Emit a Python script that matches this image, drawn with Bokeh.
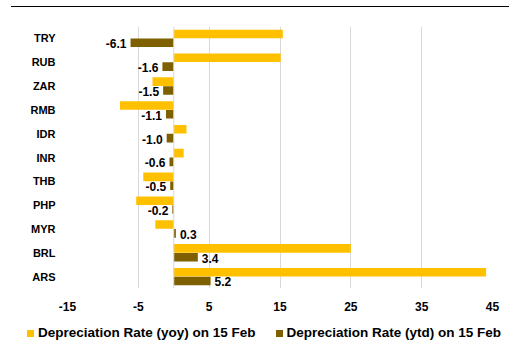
from bokeh.plotting import figure
from bokeh.models import ColumnDataSource, FactorRange, Span, Div, FixedTicker, PrintfTickFormatter
from bokeh.transform import dodge
from bokeh.layouts import column
from bokeh.embed import file_html
from bokeh.resources import INLINE
from bokeh.core.properties import value

currencies = ["TRY", "RUB", "ZAR", "RMB", "IDR", "INR", "THB", "PHP", "MYR", "BRL", "ARS"]
yoy = [15.4, 15.1, -3.0, -7.6, 1.8, 1.4, -4.3, -5.3, -2.6, 25.0, 44.1]
ytd = [-6.1, -1.6, -1.5, -1.1, -1.0, -0.6, -0.5, -0.2, 0.3, 3.4, 5.2]
x_ticks = [-15, -5, 5, 15, 25, 35, 45]
series_names = ["Depreciation Rate (yoy) on 15 Feb", "Depreciation Rate (ytd) on 15 Feb"]

FONT = "Liberation Sans"
GOLD = "#FFC000"
BROWN = "#7F6000"
GRID = "#D9D9D9"
series_colors = [GOLD, BROWN]

src = ColumnDataSource(dict(
    cur=currencies, yoy=yoy, ytd=ytd,
    lbl=[f"{v:.1f}" for v in ytd],
    align=["right" if v < 0 else "left" for v in ytd],
    xoff=[-4 if v < 0 else 4 for v in ytd],
))

p = figure(width=509, height=310,
           y_range=FactorRange(*reversed(currencies)),
           x_range=(-15, 45),
           output_backend="svg", toolbar_location=None,
           min_border_left=67, min_border_right=17,
           min_border_top=18, min_border_bottom=30,
           outline_line_color=None)

r1 = p.hbar(y=dodge("cur", 0.185, range=p.y_range), right="yoy", left=0, height=0.36,
            source=src, fill_color=GOLD, line_color=None)
r2 = p.hbar(y=dodge("cur", -0.185, range=p.y_range), right="ytd", left=0, height=0.36,
            source=src, fill_color=BROWN, line_color=None)

p.text(x="ytd", y=dodge("cur", -0.185, range=p.y_range), text="lbl", source=src,
       text_align="align", text_baseline="middle", x_offset="xoff", y_offset=1,
       text_font=value(FONT), text_font_style="bold", text_font_size="12px",
       text_color="#000000")

p.add_layout(Span(location=0, dimension="height", line_color=GRID, line_width=1))

p.xgrid.ticker = FixedTicker(ticks=x_ticks)
p.xgrid.grid_line_color = GRID
p.ygrid.grid_line_color = None

p.xaxis.ticker = FixedTicker(ticks=x_ticks)
p.xaxis.formatter = PrintfTickFormatter(format="%d")
p.xaxis.axis_line_color = None
p.xaxis.major_tick_line_color = None
p.xaxis.minor_tick_line_color = None
p.xaxis.major_label_standoff = 7
p.xaxis.major_label_text_font = FONT
p.xaxis.major_label_text_font_style = "bold"
p.xaxis.major_label_text_font_size = "12px"
p.xaxis.major_label_text_color = "#000000"

p.yaxis.axis_line_color = None
p.yaxis.major_tick_line_color = None
p.yaxis.minor_tick_line_color = None
p.yaxis.major_label_standoff = 6
p.yaxis.major_label_text_font = FONT
p.yaxis.major_label_text_font_style = "bold"
p.yaxis.major_label_text_font_size = "11px"
p.yaxis.major_label_text_color = "#000000"

# legend strip below the chart (HTML key)
items_html = ""
for i, (name, col) in enumerate(zip(series_names, series_colors)):
    gap = "margin-left:20px;" if i > 0 else ""
    items_html += (f'<span style="display:inline-block;width:7px;height:7px;background:{col};'
                   f'{gap}margin-right:4px"></span><span>{name}</span>')
legend_div = Div(
    text=(f'<div style="position:absolute;left:27px;top:8px;height:14px;display:flex;'
          f'align-items:center;font-family:\'{FONT}\';font-weight:bold;font-size:13.5px;'
          f'color:#000;white-space:nowrap">{items_html}</div>'),
    width=509, height=28, margin=0)

top_line = Div(text='<div style="position:absolute;top:6px;left:11px;width:498px;height:0;border-top:1.5px solid #000"></div>',
               width=509, height=8, margin=0)

layout = column(top_line, p, legend_div, spacing=0)
open("out.html", "w").write(file_html(layout, INLINE))
